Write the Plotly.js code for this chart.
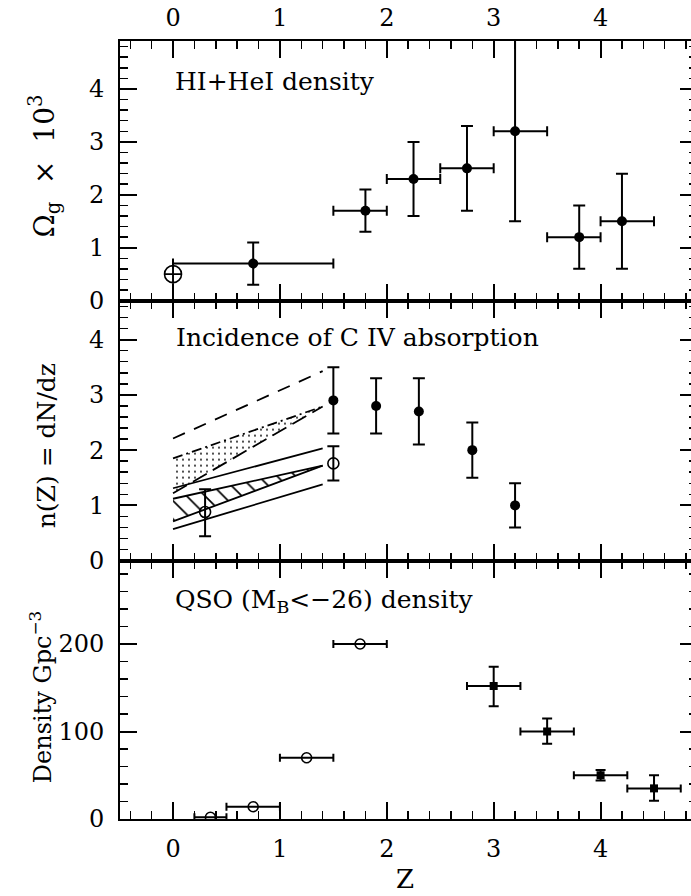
<!DOCTYPE html>
<html>
<head>
<meta charset="utf-8">
<script src="https://cdn.plot.ly/plotly-3.0.1.min.js"></script>
<style>
html,body{margin:0;padding:0;background:#fff;overflow:hidden;}
#chart{width:700px;height:896px;}
</style>
</head>
<body>
<div id="chart"></div>
<script>
// ---------- Top panel: HI+HeI density (Omega_g x 10^3) ----------
const topZ     = [0.75, 1.8, 2.25, 2.75, 3.2, 3.8, 4.2];
const topVal   = [0.7, 1.7, 2.3, 2.5, 3.2, 1.2, 1.5];
const topZLo   = [0.0, 1.5, 2.0, 2.5, 3.0, 3.5, 4.0];
const topZHi   = [1.5, 2.0, 2.5, 3.0, 3.5, 4.0, 4.5];
const topValLo = [0.3, 1.3, 1.6, 1.7, 1.5, 0.6, 0.6];
const topValHi = [1.1, 2.1, 3.0, 3.3, 5.0, 1.8, 2.4];
const topLocalZ = [0.0];
const topLocalVal = [0.5];
const topLocalLo = [0.23];
const topLocalHi = [0.77];

// ---------- Middle panel: incidence of C IV absorption ----------
const midZ     = [1.5, 1.9, 2.3, 2.8, 3.2];
const midVal   = [2.9, 2.8, 2.7, 2.0, 1.0];
const midLo    = [2.3, 2.3, 2.1, 1.5, 0.6];
const midHi    = [3.5, 3.3, 3.3, 2.5, 1.4];
const midOpenZ   = [0.3, 1.5];
const midOpenVal = [0.88, 1.76];
const midOpenLo  = [0.44, 1.45];
const midOpenHi  = [1.29, 2.07];
// model lines / bands (z from 0 to 1.4)
const bandZ       = [0.0, 1.4];
const upperDash   = [2.21, 3.43];
const dotTop      = [1.85, 2.79];
const dotBottom   = [1.22, 2.79];
const solidTop    = [1.31, 2.03];
const hatchTop    = [1.12, 1.72];
const hatchBottom = [0.71, 1.72];
const solidBottom = [0.57, 1.38];

// ---------- Bottom panel: QSO (M_B < -26) density ----------
const qsoOpenZ   = [0.35, 0.75, 1.25, 1.75];
const qsoOpenVal = [2, 14, 70, 200];
const qsoOpenZLo = [0.2, 0.5, 1.0, 1.5];
const qsoOpenZHi = [0.5, 1.0, 1.5, 2.0];
const qsoZ     = [3.0, 3.5, 4.0, 4.5];
const qsoVal   = [152, 100, 50, 35];
const qsoZLo   = [2.75, 3.25, 3.75, 4.25];
const qsoZHi   = [3.25, 3.75, 4.25, 4.75];
const qsoValLo = [129, 86, 44, 21];
const qsoValHi = [174, 115, 56, 50];

const xTickVals = [0, 1, 2, 3, 4];

const FONT = "DejaVu Serif, Liberation Serif, serif";
const sub = (a, b) => a.map((v, i) => v - b[i]);

function errY(val, lo, hi, w) {
  return {type: 'data', symmetric: false, array: sub(hi, val), arrayminus: sub(val, lo),
          color: 'black', thickness: 2, width: w};
}
function errX(z, lo, hi, w) {
  return {type: 'data', symmetric: false, array: sub(hi, z), arrayminus: sub(z, lo),
          color: 'black', thickness: 2, width: w};
}
function line(x, y, dash, xa, ya, extra) {
  return Object.assign({x: x, y: y, xaxis: xa, yaxis: ya, mode: 'lines', showlegend: false,
    hoverinfo: 'skip', line: {color: 'black', width: 1.8, dash: dash}}, extra || {});
}

const data = [
  // top panel
  {x: topZ, y: topVal, xaxis: 'x3', yaxis: 'y3', mode: 'markers', showlegend: false,
   marker: {symbol: 'circle', size: 10, color: 'black'},
   error_y: errY(topVal, topValLo, topValHi, 6), error_x: errX(topZ, topZLo, topZHi, 5)},
  {x: topLocalZ, y: topLocalVal, xaxis: 'x3', yaxis: 'y3', mode: 'markers', showlegend: false,
   marker: {symbol: 'circle-cross-open', size: 17, color: 'black', line: {width: 1.6}},
   error_y: Object.assign(errY(topLocalVal, topLocalLo, topLocalHi, 0), {thickness: 1.6})},

  // middle panel bands
  line(bandZ, upperDash, '13px,10px', 'x2', 'y2'),
  line(bandZ, dotBottom, '16px,7px', 'x2', 'y2'),
  line(bandZ, dotTop, '10px,4px,2px,4px', 'x2', 'y2',
       {fill: 'tonexty', fillcolor: 'rgba(0,0,0,0)',
        fillpattern: {shape: '.', size: 6, solidity: 0.07, fgcolor: 'black', bgcolor: 'rgba(0,0,0,0)'}}),
  line(bandZ, solidTop, 'solid', 'x2', 'y2'),
  line(bandZ, hatchBottom, 'solid', 'x2', 'y2'),
  line(bandZ, hatchTop, 'solid', 'x2', 'y2',
       {fill: 'tonexty', fillcolor: 'rgba(0,0,0,0)',
        fillpattern: {shape: '\\', size: 13, solidity: 0.13, fgcolor: 'black', bgcolor: 'rgba(0,0,0,0)'}}),
  line(bandZ, solidBottom, 'solid', 'x2', 'y2'),
  // middle panel points
  {x: midZ, y: midVal, xaxis: 'x2', yaxis: 'y2', mode: 'markers', showlegend: false,
   marker: {symbol: 'circle', size: 10, color: 'black'},
   error_y: errY(midVal, midLo, midHi, 6)},
  {x: midOpenZ, y: midOpenVal, xaxis: 'x2', yaxis: 'y2', mode: 'markers', showlegend: false,
   marker: {symbol: 'circle-open', size: 11, color: 'black', line: {width: 1.6}},
   error_y: errY(midOpenVal, midOpenLo, midOpenHi, 6)},

  // bottom panel
  {x: qsoOpenZ, y: qsoOpenVal, xaxis: 'x', yaxis: 'y', mode: 'markers', showlegend: false,
   marker: {symbol: 'circle-open', size: 10, color: 'black', line: {width: 1.6}},
   error_x: errX(qsoOpenZ, qsoOpenZLo, qsoOpenZHi, 4)},
  {x: qsoZ, y: qsoVal, xaxis: 'x', yaxis: 'y', mode: 'markers', showlegend: false,
   marker: {symbol: 'square', size: 8, color: 'black'},
   error_y: errY(qsoVal, qsoValLo, qsoValHi, 5), error_x: errX(qsoZ, qsoZLo, qsoZHi, 4)}
];

const tickFont = {family: FONT, size: 24, color: 'black'};
function xAx(extra) {
  return Object.assign({
    range: [-0.496, 4.902], tickmode: 'array', tickvals: xTickVals,
    ticks: 'inside', ticklen: 17, tickwidth: 2, tickcolor: 'black',
    showline: true, linewidth: 2, linecolor: 'black', mirror: 'ticks',
    showgrid: false, zeroline: false, tickfont: tickFont,
    minor: {dtick: 0.2, tick0: 0, ticks: 'inside', ticklen: 8, tickwidth: 1.5, tickcolor: 'black', showgrid: false}
  }, extra);
}
function yAx(extra, minorD) {
  return Object.assign({
    ticks: 'inside', ticklen: 17, tickwidth: 2, tickcolor: 'black',
    showline: true, linewidth: 2, linecolor: 'black', mirror: 'ticks',
    showgrid: false, zeroline: false, tickfont: tickFont, ticklabelstandoff: 9,
    minor: {dtick: minorD, tick0: 0, ticks: 'inside', ticklen: 8, tickwidth: 1.5, tickcolor: 'black', showgrid: false}
  }, extra);
}

const ann = (o) => Object.assign({showarrow: false, font: {family: FONT, size: 25, color: 'black'}}, o);

const layout = {
  width: 700, height: 896,
  margin: {l: 120, r: 3, t: 41, b: 77},
  paper_bgcolor: 'white', plot_bgcolor: 'white',
  showlegend: false,
  xaxis:  xAx({anchor: 'y', showticklabels: true, ticklabelstandoff: 7}),
  xaxis2: xAx({anchor: 'y2', showticklabels: false}),
  xaxis3: xAx({anchor: 'y3', side: 'top', showticklabels: true, ticklabelstandoff: 3}),
  yaxis:  yAx({domain: [0, 0.3321], range: [0, 295.3], tick0: 0, dtick: 100, anchor: 'x'}, 20),
  yaxis2: yAx({domain: [0.3321, 0.6663], range: [0, 4.706], tick0: 0, dtick: 1, anchor: 'x2'}, 0.2),
  yaxis3: yAx({domain: [0.6663, 1], range: [0, 4.907], tick0: 0, dtick: 1, anchor: 'x3'}, 0.2),
  annotations: [
    ann({text: 'HI+HeI density', xref: 'x3', yref: 'y3', x: 0, y: 4.15, xanchor: 'left', yanchor: 'middle'}),
    ann({text: 'Incidence of C IV absorption', xref: 'x2', yref: 'y2', x: 0.01, y: 4.04, xanchor: 'left', yanchor: 'middle'}),
    ann({text: 'QSO (M<sub>B</sub>&lt;−26) density', xref: 'x', yref: 'y', x: 0, y: 249, xanchor: 'left', yanchor: 'middle'}),
    ann({text: 'Ω<sub>g</sub>\u00a0\u00a0×\u00a0\u00a010<sup>3</sup>', xref: 'paper', yref: 'paper', x: -0.13, y: 0.84,
         xanchor: 'center', yanchor: 'middle', textangle: -90, font: {family: FONT, size: 28, color: 'black'}}),
    ann({text: 'n(Z) = dN/dz', xref: 'paper', yref: 'paper', x: -0.127, y: 0.48,
         xanchor: 'center', yanchor: 'middle', textangle: -90, font: {family: FONT, size: 25, color: 'black'}}),
    ann({text: 'Density Gpc<sup>−3</sup>', xref: 'paper', yref: 'paper', x: -0.138, y: 0.157,
         xanchor: 'center', yanchor: 'middle', textangle: -90, font: {family: FONT, size: 24, color: 'black'}}),
    ann({text: 'Z', xref: 'paper', yref: 'paper', x: 0.494, y: -0.0765,
         xanchor: 'center', yanchor: 'middle', font: {family: FONT, size: 26, color: 'black'}})
  ]
};

Plotly.newPlot('chart', data, layout, {staticPlot: true, displayModeBar: false});
</script>
</body>
</html>
